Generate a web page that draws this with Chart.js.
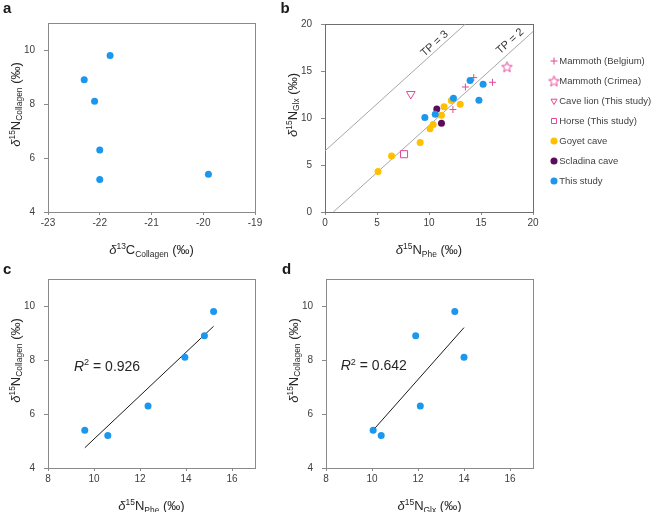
<!DOCTYPE html>
<html>
<head>
<meta charset="utf-8">
<script src="https://cdn.jsdelivr.net/npm/chart.js@4.4.1/dist/chart.umd.min.js"></script>
<style>
  html, body { margin: 0; padding: 0; background: #fff; }
  #wrap { position: relative; width: 652px; height: 512px; overflow: hidden; }
  canvas { position: absolute; }
</style>
</head>
<body>
<div id="wrap">
  <canvas id="chartA" width="270" height="266" style="left:0;top:0"></canvas>
  <canvas id="chartB" width="382" height="266" style="left:270px;top:0"></canvas>
  <canvas id="chartC" width="270" height="256" style="left:0;top:256px"></canvas>
  <canvas id="chartD" width="382" height="256" style="left:270px;top:256px"></canvas>
</div>
<script>
// this study, six samples (same order in every panel)
const collagenC = [-21.8, -22.3, -22.1, -22.0, -22.0, -19.9];
const collagenN = [9.8, 8.9, 8.1, 6.3, 5.2, 5.4];
const phe = [15.2, 14.8, 13.95, 12.35, 10.6, 9.6];
const glx = [13.6, 11.9, 14.0, 12.1, 10.4, 10.05];

// panel b reference groups
const belgiumPhe = [12.3, 13.5, 14.3, 16.1];
const belgiumGlx = [10.9, 13.3, 14.3, 13.8];
const crimeaPhe = [17.5];
const crimeaGlx = [15.45];
const lionPhe = [8.25];
const lionGlx = [12.55];
const horsePhe = [7.6];
const horseGlx = [6.15];
const goyetPhe = [5.1, 6.4, 9.15, 10.4, 10.1, 11.2, 11.45, 12.15, 13.0];
const goyetGlx = [4.3, 5.95, 7.4, 9.3, 8.85, 10.3, 11.2, 11.85, 11.45];
const scladinaPhe = [10.75, 11.2];
const scladinaGlx = [10.95, 9.45];

// trophic position lines (end points)
const tp3Phe = [0, 13.5];
const tp3Glx = [6.5, 20];
const tp2Phe = [0.8, 20];
const tp2Glx = [0, 19.2];

// regression lines (end points) and R2
const fitPheX = [9.6, 15.2];
const fitPheY = [4.75, 9.25];
const fitGlxX = [10.05, 14.0];
const fitGlxY = [5.4, 9.2];
const r2Values = ['0.926', '0.642'];

// tick labels
const ticksC13 = [-23, -22, -21, -20, -19];
const ticksColl = [4, 6, 8, 10];
const ticksB = [0, 5, 10, 15, 20];
const ticksN = [8, 10, 12, 14, 16];

const FONT = "'Liberation Sans', Arial, sans-serif";
const GRAY = '#8a8a8a';
const BLUE = '#1b98ee';
const GOLD = '#ffc000';
const PURPLE = '#5c0c5c';
const PINK = '#e4479a';

Chart.defaults.font.family = FONT;

const pts = (xs, ys) => xs.map((x, i) => ({ x: x, y: ys[i] }));

function starImage(color) {
  const c = document.createElement('canvas');
  c.width = 13; c.height = 13;
  const g = c.getContext('2d');
  g.strokeStyle = color;
  g.lineWidth = 1;
  g.beginPath();
  for (let k = 0; k < 10; k++) {
    const r = k % 2 ? 2.4 : 5.6;
    const a = -Math.PI / 2 + k * Math.PI / 5;
    const px = 6.5 + r * Math.cos(a), py = 7 + r * Math.sin(a);
    if (k) g.lineTo(px, py); else g.moveTo(px, py);
  }
  g.closePath();
  g.stroke();
  return c;
}

function drawRich(ctx, parts, size, align) {
  const small = size * 0.65;
  let total = 0;
  const items = parts.map(p => {
    const font = (p.it ? 'italic ' : '') + (p.sup || p.sub ? small : size) + 'px ' + FONT;
    ctx.font = font;
    const w = ctx.measureText(p.t).width;
    total += w;
    return { p, font, w };
  });
  let x = align === 'center' ? -total / 2 : 0;
  ctx.textAlign = 'left';
  ctx.textBaseline = 'alphabetic';
  items.forEach(({ p, font, w }) => {
    ctx.font = font;
    const dy = p.sup ? -size * 0.38 : p.sub ? size * 0.22 : 0;
    ctx.fillText(p.t, x, dy);
    x += w;
  });
}

function makeDecor(cfg) {
  return {
    id: 'decor',
    beforeDatasetsDraw(chart) {
      const { ctx, chartArea: a } = chart;
      ctx.save();
      ctx.strokeStyle = cfg.frame || GRAY;
      ctx.lineWidth = 1;
      ctx.strokeRect(Math.round(a.left) + 0.5, Math.round(a.top) + 0.5,
        Math.round(a.right - a.left), Math.round(a.bottom - a.top));
      ctx.restore();
    },
    afterDraw(chart) {
      const { ctx, chartArea: a, scales: { x, y } } = chart;
      ctx.save();
      ctx.fillStyle = '#1a1a1a';
      ctx.font = 'bold 15px ' + FONT;
      ctx.textAlign = 'left';
      ctx.textBaseline = 'alphabetic';
      ctx.fillText(cfg.letter, cfg.letterX, cfg.letterY);

      ctx.fillStyle = '#262626';
      ctx.save();
      ctx.translate((a.left + a.right) / 2, a.bottom + 42);
      drawRich(ctx, cfg.xTitle, 13, 'center');
      ctx.restore();

      ctx.save();
      ctx.translate(a.left - 28.5, (a.top + a.bottom) / 2 - 13);
      ctx.rotate(-Math.PI / 2);
      drawRich(ctx, cfg.yTitle, 13, 'center');
      ctx.restore();

      (cfg.notes || []).forEach(n => {
        ctx.save();
        ctx.translate(x.getPixelForValue(n.x), y.getPixelForValue(n.y));
        drawRich(ctx, n.parts, 14, 'left');
        ctx.restore();
      });

      (cfg.slanted || []).forEach(n => {
        const ang = Math.atan2(y.getPixelForValue(1) - y.getPixelForValue(0),
          x.getPixelForValue(1) - x.getPixelForValue(0));
        ctx.save();
        ctx.translate(x.getPixelForValue(n.x), y.getPixelForValue(n.y));
        ctx.rotate(ang);
        ctx.font = '11px ' + FONT;
        ctx.textAlign = 'center';
        ctx.textBaseline = 'middle';
        ctx.fillStyle = '#333';
        ctx.fillText(n.text, 0, 0);
        ctx.restore();
      });
      ctx.restore();
    }
  };
}

function axis(pos, min, max, ticks) {
  const left = pos === 'left';
  return {
    type: 'linear',
    position: pos,
    min: min,
    max: max,
    afterBuildTicks: s => { s.ticks = ticks.map(v => ({ value: v })); },
    afterFit: s => {
      if (left) s.width = 30; else s.height = 18;
      s.paddingLeft = s.paddingRight = s.paddingTop = s.paddingBottom = 0;
    },
    grid: { display: true, drawOnChartArea: false, drawTicks: true, tickLength: left ? 4 : 3, color: GRAY },
    border: { display: true, color: GRAY },
    ticks: { color: '#404040', font: { size: 10 }, padding: left ? 9 : 2 }
  };
}

// empty axes used only to hold space around panel b
function spacer(pos, size) {
  return {
    type: 'linear', position: pos, display: true,
    grid: { display: false }, border: { display: false }, ticks: { display: false },
    afterFit: s => {
      if (pos === 'right') s.width = size; else s.height = size;
      s.paddingLeft = s.paddingRight = s.paddingTop = s.paddingBottom = 0;
    }
  };
}

function dots(label, xs, ys, color, order) {
  return {
    label: label,
    data: pts(xs, ys),
    pointStyle: 'circle',
    pointRadius: 3.5,
    backgroundColor: color,
    borderColor: color,
    borderWidth: 0,
    order: order
  };
}

function line(label, xs, ys, color, order) {
  return {
    label: label,
    data: pts(xs, ys),
    showLine: true,
    pointRadius: 0,
    borderColor: color,
    borderWidth: 1,
    fill: false,
    order: order
  };
}

const baseOptions = {
  responsive: false,
  animation: false,
  events: [],
  plugins: { legend: { display: false }, tooltip: { enabled: false } }
};

const collTitle = [{ t: 'δ', it: true }, { t: '15', sup: true }, { t: 'N' }, { t: 'Collagen', sub: true }, { t: ' (‰)' }];
const pheTitle = [{ t: 'δ', it: true }, { t: '15', sup: true }, { t: 'N' }, { t: 'Phe', sub: true }, { t: ' (‰)' }];
const glxTitle = [{ t: 'δ', it: true }, { t: '15', sup: true }, { t: 'N' }, { t: 'Glx', sub: true }, { t: ' (‰)' }];

// a
new Chart(document.getElementById('chartA'), {
  type: 'scatter',
  data: { datasets: [dots('This study', collagenC, collagenN, BLUE, 0)] },
  options: Object.assign({}, baseOptions, {
    layout: { padding: { left: 18, top: 23, right: 15, bottom: 36 } },
    scales: { x: axis('bottom', -23, -19, ticksC13), y: axis('left', 4, 11, ticksColl) }
  }),
  plugins: [makeDecor({
    letter: 'a', letterX: 3, letterY: 13,
    xTitle: [{ t: 'δ', it: true }, { t: '13', sup: true }, { t: 'C' }, { t: 'Collagen', sub: true }, { t: ' (‰)' }],
    yTitle: collTitle
  })]
});

// b
new Chart(document.getElementById('chartB'), {
  type: 'scatter',
  data: {
    datasets: [
      Object.assign(dots('Mammoth (Belgium)', belgiumPhe, belgiumGlx, PINK, 6),
        { pointStyle: 'cross', borderWidth: 1, backgroundColor: 'rgba(0,0,0,0)' }),
      Object.assign(dots('Mammoth (Crimea)', crimeaPhe, crimeaGlx, PINK, 5),
        { pointStyle: starImage(PINK), borderWidth: 1 }),
      Object.assign(dots('Cave lion (This study)', lionPhe, lionGlx, PINK, 4),
        { pointStyle: 'triangle', rotation: 180, pointRadius: 5, borderWidth: 1, backgroundColor: 'rgba(255,255,255,0)' }),
      Object.assign(dots('Horse (This study)', horsePhe, horseGlx, PINK, 3),
        { pointStyle: 'rect', pointRadius: 5, borderWidth: 1, backgroundColor: 'rgba(255,255,255,0)' }),
      dots('Goyet cave', goyetPhe, goyetGlx, GOLD, 2),
      dots('Scladina cave', scladinaPhe, scladinaGlx, PURPLE, 1),
      dots('This study', phe, glx, BLUE, 0),
      line('TP = 3', tp3Phe, tp3Glx, '#a6a6a6', 10),
      line('TP = 2', tp2Phe, tp2Glx, '#a6a6a6', 10)
    ]
  },
  options: Object.assign({}, baseOptions, {
    layout: { padding: { left: 25, top: 12, right: 0, bottom: 36 } },
    scales: {
      x: axis('bottom', 0, 20, ticksB),
      y: axis('left', 0, 20, ticksB),
      x2: spacer('top', 12),
      y2: spacer('right', 10)
    },
    plugins: {
      tooltip: { enabled: false },
      legend: {
        display: true,
        position: 'right',
        align: 'center',
        fullSize: true,
        maxWidth: 109,
        labels: {
          usePointStyle: true,
          boxWidth: 1,
          boxHeight: 5,
          padding: 10.5,
          color: '#404040',
          font: { size: 9.5 },
          filter: item => !item.text.startsWith('TP'),
          sort: (p, q) => p.datasetIndex - q.datasetIndex
        }
      }
    }
  }),
  plugins: [makeDecor({
    frame: '#6e6e6e',
    letter: 'b', letterX: 10.5, letterY: 13,
    xTitle: pheTitle,
    yTitle: glxTitle,
    slanted: [{ text: 'TP = 3', x: 10.55, y: 17.9 }, { text: 'TP = 2', x: 17.8, y: 18.15 }]
  })]
});

// c
new Chart(document.getElementById('chartC'), {
  type: 'scatter',
  data: {
    datasets: [
      dots('This study', phe, collagenN, BLUE, 0),
      line('fit', fitPheX, fitPheY, '#1a1a1a', 1)
    ]
  },
  options: Object.assign({}, baseOptions, {
    layout: { padding: { left: 18, top: 23, right: 15, bottom: 26 } },
    scales: { x: axis('bottom', 8, 17, ticksN), y: axis('left', 4, 11, ticksColl) }
  }),
  plugins: [makeDecor({
    letter: 'c', letterX: 3, letterY: 18,
    xTitle: pheTitle,
    yTitle: collTitle,
    notes: [{ x: 9.13, y: 7.6, parts: [{ t: 'R', it: true }, { t: '2', sup: true }, { t: ' = ' + r2Values[0] }] }]
  })]
});

// d
new Chart(document.getElementById('chartD'), {
  type: 'scatter',
  data: {
    datasets: [
      dots('This study', glx, collagenN, BLUE, 0),
      line('fit', fitGlxX, fitGlxY, '#1a1a1a', 1)
    ]
  },
  options: Object.assign({}, baseOptions, {
    layout: { padding: { left: 26, top: 23, right: 119, bottom: 26 } },
    scales: { x: axis('bottom', 8, 17, ticksN), y: axis('left', 4, 11, ticksColl) }
  }),
  plugins: [makeDecor({
    letter: 'd', letterX: 12, letterY: 18,
    xTitle: glxTitle,
    yTitle: collTitle,
    notes: [{ x: 8.64, y: 7.63, parts: [{ t: 'R', it: true }, { t: '2', sup: true }, { t: ' = ' + r2Values[1] }] }]
  })]
});
</script>
</body>
</html>
